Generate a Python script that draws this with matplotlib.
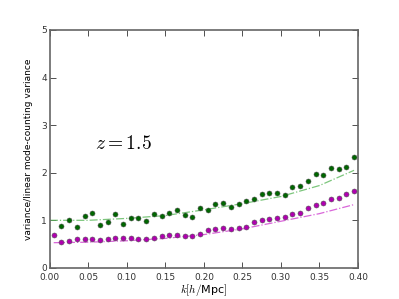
import matplotlib
matplotlib.use("Agg")
import matplotlib.pyplot as plt
import numpy as np

plt.rcParams['mathtext.fontset'] = 'cm'

k_green = [0.015, 0.025, 0.035, 0.045, 0.055, 0.065, 0.075, 0.085, 0.095, 0.105,
           0.115, 0.125, 0.135, 0.145, 0.155, 0.165, 0.175, 0.185, 0.195, 0.205,
           0.215, 0.225, 0.235, 0.245, 0.255, 0.265, 0.275, 0.285, 0.295, 0.305,
           0.315, 0.325, 0.335, 0.345, 0.355, 0.365, 0.375, 0.385, 0.395]
green = [0.89, 1.00, 0.85, 1.08, 1.16, 0.91, 0.97, 1.14, 0.93, 1.05,
         1.04, 0.98, 1.14, 1.10, 1.16, 1.21, 1.11, 1.06, 1.25, 1.22,
         1.34, 1.37, 1.28, 1.35, 1.40, 1.44, 1.55, 1.58, 1.58, 1.54,
         1.69, 1.73, 1.82, 1.98, 1.96, 2.10, 2.08, 2.12, 2.33]

k_mag = [0.005, 0.015, 0.025, 0.035, 0.045, 0.055, 0.065, 0.075, 0.085, 0.095, 0.105,
         0.115, 0.125, 0.135, 0.145, 0.155, 0.165, 0.175, 0.185, 0.195, 0.205,
         0.215, 0.225, 0.235, 0.245, 0.255, 0.265, 0.275, 0.285, 0.295, 0.305,
         0.315, 0.325, 0.335, 0.345, 0.355, 0.365, 0.375, 0.385, 0.395]
magenta = [0.70, 0.55, 0.57, 0.60, 0.61, 0.60, 0.58, 0.60, 0.62, 0.63, 0.63,
           0.60, 0.60, 0.63, 0.66, 0.70, 0.70, 0.68, 0.68, 0.71, 0.79,
           0.82, 0.83, 0.81, 0.83, 0.86, 0.96, 1.00, 1.02, 1.04, 1.06,
           1.13, 1.16, 1.25, 1.32, 1.37, 1.44, 1.46, 1.56, 1.62]

k_line_green = [0.0, 0.05, 0.10, 0.15, 0.20, 0.25, 0.30, 0.35, 0.395]
line_green = [1.00, 1.00, 1.04, 1.10, 1.22, 1.35, 1.50, 1.73, 2.05]
k_line_mag = [0.005, 0.05, 0.10, 0.15, 0.20, 0.25, 0.30, 0.35, 0.395]
line_mag = [0.53, 0.54, 0.57, 0.62, 0.70, 0.82, 0.98, 1.14, 1.33]

fig = plt.figure(figsize=(3.99, 2.99), dpi=100)
ax = fig.add_axes([0.125, 0.104, 0.772, 0.796])

ax.plot(k_line_green, line_green, linestyle='-.', color='#5cb85c', lw=0.9, alpha=0.8)
ax.plot(k_line_mag, line_mag, linestyle='-.', color='#d040d0', lw=0.9, alpha=0.8)
ax.plot(k_green, green, 'o', color='#006600', ms=3.6, mec='#555555', mew=0.4)
ax.plot(k_mag, magenta, 'o', color='#b000b0', ms=3.6, mec='#555555', mew=0.4)

ax.set_xlim(0, 0.4)
ax.set_ylim(0, 5)
ax.set_xticks(np.arange(0, 0.41, 0.05))
ax.set_xticklabels(['0.00', '0.05', '0.10', '0.15', '0.20', '0.25', '0.30', '0.35', '0.40'])
ax.set_yticks([0, 1, 2, 3, 4, 5])
ax.tick_params(direction='in', labelsize=6.5, length=4, width=0.6, colors='#333333',
               top=True, right=True)
ax.tick_params(axis='x', pad=4)
ax.tick_params(axis='y', pad=2)
for s in ax.spines.values():
    s.set_color('#666666')
    s.set_linewidth(1.2)
ax.set_xlabel(r'$k[h/$Mpc$]$', fontsize=8, labelpad=0)
ax.set_ylabel('variance/linear mode-counting variance', fontsize=6.5, labelpad=6)
ax.text(0.095, 2.62, r'$z=1.5$', fontsize=14, ha='center', va='center')

fig.savefig('out.png', dpi=100)
